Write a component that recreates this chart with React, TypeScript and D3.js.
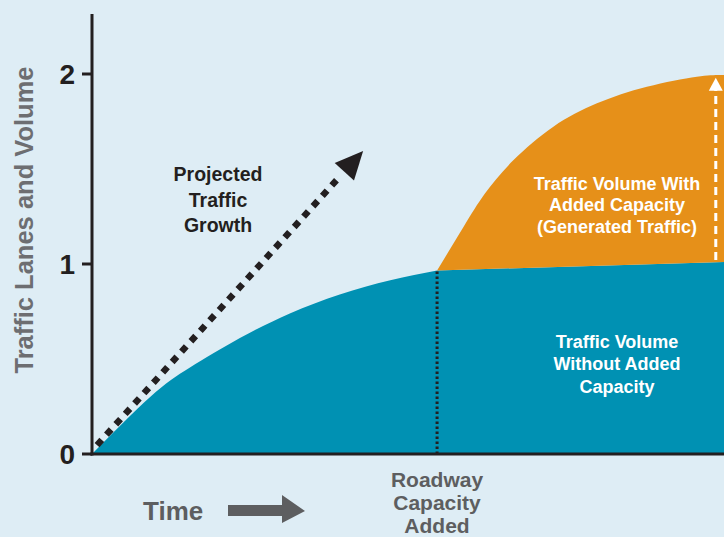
import React from 'react';
import * as d3 from 'd3';

const width = 724;
const height = 537;
const margin = { top: 14, right: 0, bottom: 83, left: 92 };

// time runs 0..100, capacity is added at 54.6
const capacityTime = 54.6;
const yTicks = [0, 1, 2];

// teal: traffic volume without added capacity
const baseTime = [0, 9.2, 15.5, 23.4, 31.3, 39.2, 47.2, 54.6];
const baseValue = [0, 0.3, 0.455, 0.61, 0.74, 0.84, 0.915, 0.966];
const baseEnd = [100, 1.01];

// orange: with added capacity (generated traffic)
const topTime = [54.6, 58.8, 62.2, 66.7, 73.0, 79.9, 87.8, 95.7, 100];
const topValue = [0.966, 1.196, 1.372, 1.547, 1.723, 1.846, 1.933, 1.986, 1.995];

// projected growth arrow (time, value)
const growthStart = [0.8, 0.047];
const growthEnd = [39.2, 1.46];
const growthTip = [42.9, 1.595];

// generated traffic arrow
const genTime = 98.7;
const genFrom = 1.01;
const genTo = 1.98;

const bg = '#deedf5';
const teal = '#0091b3';
const orange = '#e69019';
const dark = '#231f20';
const grey = '#5d5e60';

const x = d3.scaleLinear().domain([0, 100]).range([margin.left, width]);
const y = d3.scaleLinear().domain([0, 2]).range([454, 74]);

const font = '"Liberation Sans", Arial, sans-serif';

function arrowHead(tip: number[], from: number[], len: number, half: number) {
  const tx = x(tip[0]);
  const ty = y(tip[1]);
  const fx = x(from[0]);
  const fy = y(from[1]);
  const a = Math.atan2(ty - fy, tx - fx);
  const bx = tx - len * Math.cos(a);
  const by = ty - len * Math.sin(a);
  const px = -Math.sin(a) * half;
  const py = Math.cos(a) * half;
  return `M${tx},${ty}L${bx + px},${by + py}L${bx - px},${by - py}Z`;
}

export default function App() {
  const line = d3.line<number>()
    .x((d, i) => x(baseTime[i]))
    .y((d) => y(d))
    .curve(d3.curveNatural);
  const basePath = `${line(baseValue)}L${x(baseEnd[0])},${y(baseEnd[1])}L${x(100)},${y(0)}L${x(0)},${y(0)}Z`;

  const topLine = d3.line<number>()
    .x((d, i) => x(topTime[i]))
    .y((d) => y(d))
    .curve(d3.curveNatural);
  const topPath = `${topLine(topValue)}L${x(baseEnd[0])},${y(baseEnd[1])}L${x(capacityTime)},${y(baseValue[baseValue.length - 1])}Z`;

  const genTipY = y(genTo);

  return (
    <svg width={width} height={height} style={{ position: 'absolute', left: 0, top: 0, display: 'block' }}>
      <rect width={width} height={height} fill={bg} />
      <path d={basePath} fill={teal} />
      <path d={topPath} fill={orange} />

      {/* capacity added marker */}
      <line
        x1={x(capacityTime)} x2={x(capacityTime)}
        y1={y(0)} y2={y(baseValue[baseValue.length - 1])}
        stroke={dark} strokeWidth={3} strokeDasharray="2.5 2.5"
      />

      {/* projected growth */}
      <line
        x1={x(growthStart[0])} y1={y(growthStart[1])}
        x2={x(growthEnd[0])} y2={y(growthEnd[1])}
        stroke={dark} strokeWidth={6.5} strokeDasharray="7 7"
      />
      <path d={arrowHead(growthTip, growthStart, 28, 13)} fill={dark} />

      {/* generated traffic arrow */}
      <line
        x1={x(genTime)} x2={x(genTime)}
        y1={y(genFrom) - 2} y2={genTipY + 12}
        stroke="#fff" strokeWidth={3} strokeDasharray="8 5"
      />
      <path d={`M${x(genTime)},${genTipY}L${x(genTime) - 7},${genTipY + 13}L${x(genTime) + 7},${genTipY + 13}Z`} fill="#fff" />

      {/* axes */}
      <line x1={x(0)} x2={x(0)} y1={margin.top} y2={y(0) + 1.5} stroke={dark} strokeWidth={3} />
      <line x1={x(0) - 1.5} x2={width} y1={y(0)} y2={y(0)} stroke={dark} strokeWidth={3} />
      {yTicks.map((t) => (
        <g key={t}>
          <line x1={x(0) - 10} x2={x(0)} y1={y(t)} y2={y(t)} stroke={dark} strokeWidth={3} />
          <text x={x(0) - 17} y={y(t) + 10} textAnchor="end" fontFamily={font} fontWeight="bold" fontSize={28} fill={dark}>{t}</text>
        </g>
      ))}
      <text
        transform="translate(33,220) rotate(-90)"
        textAnchor="middle" fontFamily={font} fontWeight="bold" fontSize={25.5} fill="#6d6e71"
      >
        Traffic Lanes and Volume
      </text>

      {/* time label */}
      <text x={143} y={520} fontFamily={font} fontWeight="bold" fontSize={26} fill={grey}>Time</text>
      <path d="M228,505L282,505L282,495L305,511L282,523L282,516L228,516Z" fill={grey} />

      <g fontFamily={font} fontWeight="bold" fontSize={21} fill={grey} textAnchor="middle">
        <text x={437} y={487}>Roadway</text>
        <text x={437} y={510}>Capacity</text>
        <text x={437} y={533}>Added</text>
      </g>

      <g fontFamily={font} fontWeight="bold" fontSize={19.5} fill={dark} textAnchor="middle">
        <text x={218} y={181}>Projected</text>
        <text x={218} y={207}>Traffic</text>
        <text x={218} y={232}>Growth</text>
      </g>

      <g fontFamily={font} fontWeight="bold" fontSize={18} fill="#fff" textAnchor="middle">
        <text x={617} y={190}>Traffic Volume With</text>
        <text x={617} y={211}>Added Capacity</text>
        <text x={617} y={233}>(Generated Traffic)</text>
      </g>

      <g fontFamily={font} fontWeight="bold" fontSize={18} fill="#fff" textAnchor="middle">
        <text x={617} y={348}>Traffic Volume</text>
        <text x={617} y={370}>Without Added</text>
        <text x={617} y={393}>Capacity</text>
      </g>
    </svg>
  );
}
